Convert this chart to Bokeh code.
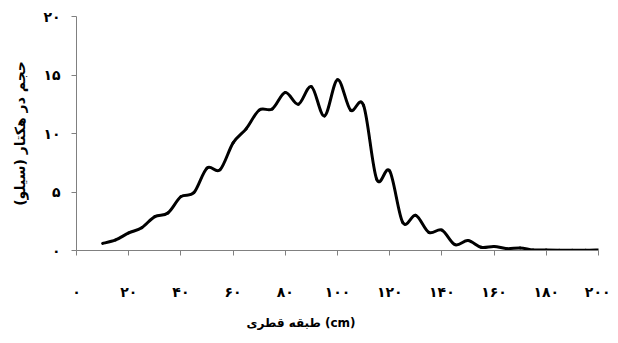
from bokeh.plotting import figure
from bokeh.models import Range1d, FixedTicker, Title
from bokeh.embed import file_html
from bokeh.resources import INLINE

# Diameter classes (cm) and volume per hectare (silve)
diameter = [10, 15, 20, 25, 30, 35, 40, 45, 50, 55, 60, 65, 70, 75, 80, 85, 90, 95,
            100, 105, 110, 115, 120, 125, 130, 135, 140, 145, 150, 155, 160, 165,
            170, 175, 180, 185, 190, 195, 200]
volume = [0.6, 0.9, 1.5, 1.95, 2.9, 3.2, 4.6, 4.95, 7.05, 6.9, 9.2, 10.4, 12.0, 12.1,
          13.5, 12.5, 14.0, 11.5, 14.6, 12.0, 12.4, 6.1, 6.8, 2.4, 3.0, 1.55, 1.75,
          0.5, 0.85, 0.28, 0.35, 0.15, 0.22, 0.05, 0.04, 0.03, 0.02, 0.02, 0.05]

x_ticks = [0, 20, 40, 60, 80, 100, 120, 140, 160, 180, 200]
x_tick_labels = ["۰", "۲۰", "۴۰", "۶۰", "۸۰", "۱۰۰", "۱۲۰", "۱۴۰", "۱۶۰", "۱۸۰", "۲۰۰"]
y_ticks = [0, 5, 10, 15, 20]
y_tick_labels = ["۰", "۵", "۱۰", "۱۵", "۲۰"]

x_title = "طبقه قطری (cm)"
y_title = "حجم در هکتار (سیلو)"

FONT = "DejaVu Sans"
AXIS_COLOR = "#808080"

p = figure(width=610, height=340, output_backend="svg", toolbar_location=None,
           x_range=Range1d(0, 200), y_range=Range1d(0, 20),
           min_border_left=76, min_border_right=12, min_border_top=16,
           min_border_bottom=90)
p.outline_line_color = None
p.xgrid.visible = False
p.ygrid.visible = False
p.background_fill_color = "white"

# Smoothed line (Catmull-Rom converted to cubic Bezier segments)
n = len(diameter)
x0, y0, x1, y1, cx0, cy0, cx1, cy1 = [], [], [], [], [], [], [], []
for i in range(n - 1):
    im1 = max(i - 1, 0)
    ip2 = min(i + 2, n - 1)
    x0.append(diameter[i]); y0.append(volume[i])
    x1.append(diameter[i + 1]); y1.append(volume[i + 1])
    cx0.append(diameter[i] + (diameter[i + 1] - diameter[im1]) / 6)
    cy0.append(volume[i] + (volume[i + 1] - volume[im1]) / 6)
    cx1.append(diameter[i + 1] - (diameter[ip2] - diameter[i]) / 6)
    cy1.append(volume[i + 1] - (volume[ip2] - volume[i]) / 6)
p.bezier(x0=x0, y0=y0, x1=x1, y1=y1, cx0=cx0, cy0=cy0, cx1=cx1, cy1=cy1,
         line_color="black", line_width=3, line_cap="round")

for ax in (p.xaxis[0], p.yaxis[0]):
    ax.axis_line_color = AXIS_COLOR
    ax.major_tick_line_color = AXIS_COLOR
    ax.major_tick_in = 0
    ax.major_tick_out = 5
    ax.minor_tick_line_color = None
    ax.major_label_text_font = FONT
    ax.major_label_text_font_style = "bold"
    ax.major_label_text_font_size = "14px"
    ax.major_label_text_color = "black"

p.xaxis.ticker = FixedTicker(ticks=x_ticks)
p.xaxis.major_label_overrides = dict(zip(x_ticks, x_tick_labels))
p.xaxis.major_label_standoff = 28

p.yaxis.ticker = FixedTicker(ticks=y_ticks)
p.yaxis.major_label_overrides = dict(zip(y_ticks, y_tick_labels))
p.yaxis.major_label_standoff = 11
p.yaxis.axis_label = y_title
p.yaxis.axis_label_text_font = FONT
p.yaxis.axis_label_text_font_style = "bold"
p.yaxis.axis_label_text_font_size = "14px"
p.yaxis.axis_label_text_color = "black"
p.yaxis.axis_label_standoff = 12

p.add_layout(Title(text=x_title, align="left", offset=170, standoff=22,
                   text_font=FONT, text_font_style="bold",
                   text_font_size="12px", text_color="black"), "below")

open("out.html", "w").write(file_html(p, INLINE))
